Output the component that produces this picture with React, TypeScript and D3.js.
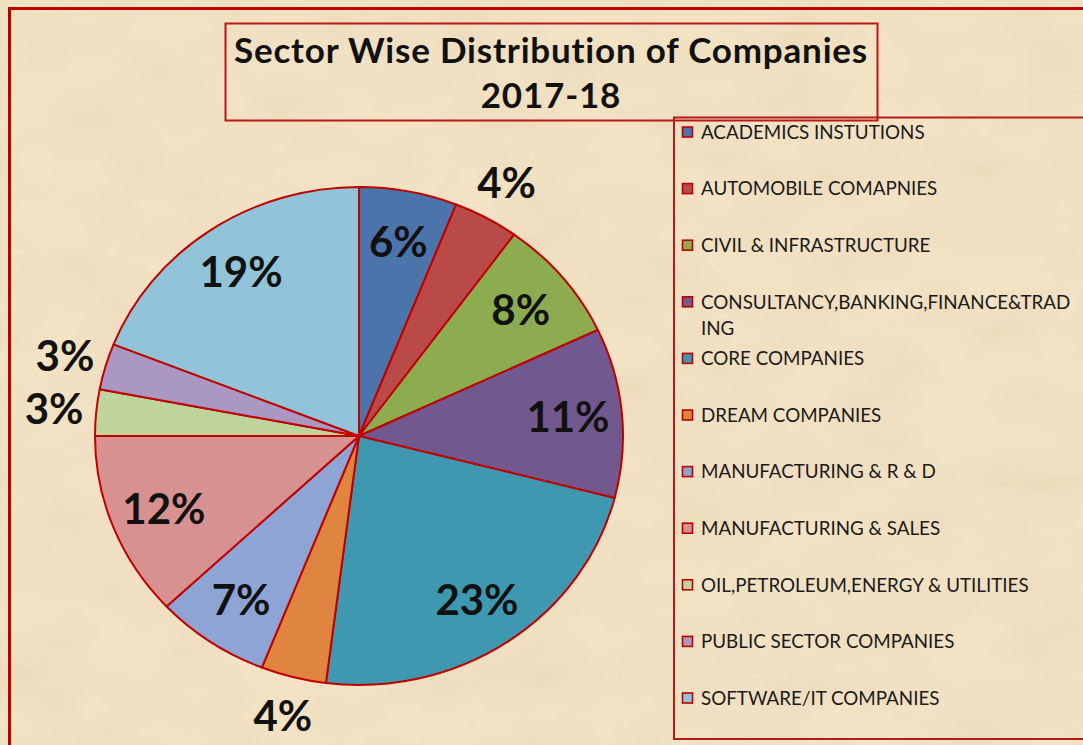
import React, { useRef, useEffect } from 'react';
import * as d3 from 'd3';

// sectors, clockwise from 12 o'clock
const sectors = [
  'ACADEMICS INSTUTIONS',
  'AUTOMOBILE COMAPNIES',
  'CIVIL & INFRASTRUCTURE',
  'CONSULTANCY,BANKING,FINANCE&TRADING',
  'CORE COMPANIES',
  'DREAM COMPANIES',
  'MANUFACTURING & R & D',
  'MANUFACTURING & SALES',
  'OIL,PETROLEUM,ENERGY & UTILITIES',
  'PUBLIC SECTOR COMPANIES',
  'SOFTWARE/IT COMPANIES',
];
const shares = [6, 4, 8, 11, 23, 4, 7, 12, 3, 3, 19];
const colors = [
  '#4A74AA', '#B94A48', '#8DAB4F', '#71598F', '#3E98AF', '#E0853F',
  '#8DA4D4', '#D69190', '#BFD49C', '#AA98C3', '#91C4D9',
];
const titleLines = ['Sector Wise Distribution of Companies', '2017-18'];

const W = 1083;
const H = 745;
const FONT = 'Lato, "Open Sans", sans-serif';
const RED = '#C00000';

const App = () => {
  const svgRef = useRef(null);

  useEffect(() => {
    const svg = d3.select(svgRef.current);
    svg.selectAll('*').remove();

    // parchment texture
    const defs = svg.append('defs');
    const f = defs.append('filter').attr('id', 'paper').attr('x', 0).attr('y', 0)
      .attr('width', '100%').attr('height', '100%');
    f.append('feTurbulence').attr('type', 'fractalNoise').attr('baseFrequency', '0.012 0.02')
      .attr('numOctaves', 4).attr('seed', 7).attr('result', 'noise');
    f.append('feColorMatrix').attr('in', 'noise').attr('type', 'matrix')
      .attr('values', '0 0 0 0 0.80  0 0 0 0 0.66  0 0 0 0 0.45  -1.5 0 0 0 1.0')
      .attr('result', 'spots');
    f.append('feComposite').attr('in', 'spots').attr('in2', 'SourceGraphic').attr('operator', 'over');

    svg.append('rect').attr('width', W).attr('height', H).attr('fill', '#F2E2C2')
      .attr('filter', 'url(#paper)');
    svg.append('rect').attr('width', W).attr('height', H).attr('fill', '#F5E6CA').attr('opacity', 0.3);

    // outer chart border
    svg.append('rect').attr('x', 9.5).attr('y', 8.5).attr('width', W + 20).attr('height', H + 20)
      .attr('fill', 'none').attr('stroke', RED).attr('stroke-width', 3);

    // title box
    svg.append('rect').attr('x', 225.5).attr('y', 23.5).attr('width', 652).attr('height', 97)
      .attr('fill', 'none').attr('stroke', '#B81818').attr('stroke-width', 2);
    titleLines.forEach((line, i) => {
      svg.append('text').attr('x', 551).attr('y', 63 + i * 45).attr('text-anchor', 'middle')
        .attr('font-family', FONT).attr('font-weight', 700).attr('font-size', 35)
        .attr('letter-spacing', 0.8).attr('fill', '#111')
        .text(line);
    });

    // pie
    const cx = 359, cy = 436, R = 249, sx = 264 / 249;
    const pie = d3.pie().value(d => d).sort(null);
    const arcs = pie(shares);
    const arc = d3.arc().innerRadius(0).outerRadius(R);
    const g = svg.append('g').attr('transform', `translate(${cx},${cy}) scale(${sx},1)`);
    g.selectAll('path').data(arcs).enter().append('path')
      .attr('d', arc)
      .attr('fill', (d, i) => colors[i])
      .attr('stroke', RED).attr('stroke-width', 2)
      .attr('vector-effect', 'non-scaling-stroke')
      .attr('stroke-linejoin', 'round');

    const inArc = d3.arc().innerRadius(R * 0.795).outerRadius(R * 0.795);
    const outArc = d3.arc().innerRadius(R * 1.16).outerRadius(R * 1.16);
    const pos = d => (d.value < 5 ? outArc : inArc).centroid(d);
    svg.append('g').selectAll('text').data(arcs).enter().append('text')
      .attr('x', d => cx + pos(d)[0] * sx)
      .attr('y', d => cy + pos(d)[1])
      .attr('dy', '0.36em')
      .attr('text-anchor', 'middle')
      .attr('font-family', FONT).attr('font-weight', 700).attr('font-size', 42).attr('fill', '#111')
      .text(d => `${d.value}%`);

    // legend
    svg.append('rect').attr('x', 674).attr('y', 117.5).attr('width', W).attr('height', 621.5)
      .attr('fill', 'none').attr('stroke', '#B81818').attr('stroke-width', 2);
    const y0 = 132, step = 56.6, tx = 701, maxW = 374;
    sectors.forEach((s, i) => {
      const y = y0 + i * step;
      svg.append('rect').attr('x', 682.5).attr('y', y - 5).attr('width', 10).attr('height', 10)
        .attr('fill', colors[i]).attr('stroke', RED).attr('stroke-width', 1.6);
      const t = svg.append('text').attr('x', tx).attr('y', y).attr('dy', '0.36em')
        .attr('font-family', FONT).attr('font-size', 18.8).attr('fill', '#1a1a1a').text(s);
      const node = t.node();
      if (node.getComputedTextLength() > maxW) {
        let cut = s.length;
        while (cut > 1) {
          t.text(s.slice(0, cut));
          if (node.getComputedTextLength() <= maxW) break;
          cut--;
        }
        t.text(null);
        t.append('tspan').attr('x', tx).text(s.slice(0, cut));
        t.append('tspan').attr('x', tx).attr('dy', 26).text(s.slice(cut));
      }
    });

    svg.attr('width', W).attr('height', H);
  }, []);

  return (
    <svg ref={svgRef} style={{ position: 'absolute', left: 0, top: 0, display: 'block' }}></svg>
  );
};

export default App;
